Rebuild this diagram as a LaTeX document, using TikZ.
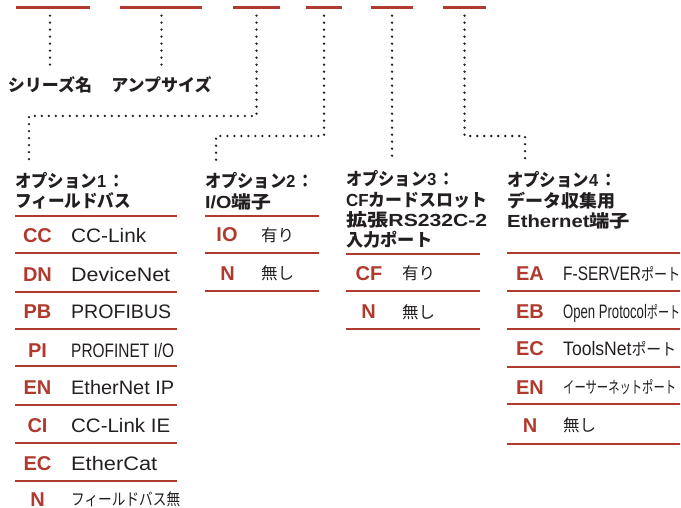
\documentclass[tikz,border=0pt]{standalone}
\usepackage{fontspec}
\setmainfont{Liberation Sans}
\newfontfamily\jp{Noto Sans CJK JP}
\definecolor{rd}{HTML}{B03A2E}
\definecolor{txt}{HTML}{231F20}
\newcommand{\fitw}[2]{\resizebox{#1}{\height}{#2}}
\newcommand{\LA}[1]{{\rmfamily #1}}
\begin{document}
\begin{tikzpicture}[x=1pt,y=-1pt,
  bar/.style={fill=rd, inner sep=0, minimum height=3pt},
  dotln/.style={draw=txt, line width=2.6pt, dash pattern=on 0pt off 7pt, line cap=round},
  rule/.style={draw=rd, line width=1.5pt},
  code/.style={inner sep=0, text height=14pt, text depth=0pt, anchor=center, text=rd, font=\fontsize{20}{20}\selectfont\bfseries},
  lab/.style={inner sep=0, text height=14pt, text depth=0pt, anchor=west, text=txt, font=\fontsize{19.5}{20}\selectfont},
  jl/.style={inner sep=0, text height=12.6pt, text depth=0pt, anchor=west, text=txt, font=\jp\fontsize{16.5}{18}\selectfont},
  hd/.style={inner sep=0, text height=13.3pt, text depth=0pt, anchor=west, text=txt, font=\jp\bfseries\fontsize{17.5}{18}\selectfont},
  top/.style={inner sep=0, text height=13pt, text depth=0pt, anchor=center, text=txt, font=\jp\bfseries\fontsize{17}{18}\selectfont}]
\useasboundingbox (0,0) rectangle (681,508);
% bars
\node[bar, minimum width=74pt] (b1) at (53,8) {};
\node[bar, minimum width=82pt] (b2) at (161,8) {};
\node[bar, minimum width=47pt] (b3) at (256.5,8) {};
\node[bar, minimum width=36pt] (b4) at (324,8) {};
\node[bar, minimum width=42pt] (b5) at (392,8) {};
\node[bar, minimum width=43pt] (b6) at (464.5,8) {};
% top labels
\node[top] (n1) at (50,85) {シリーズ名};
\node[top] (n2) at (161.5,85) {アンプサイズ};
% headers
\node[hd] (h1a) at (15,181) {\fitw{110pt}{オプション\LA{1}\,：}};
\node[hd] (h1b) at (15,201) {\fitw{116pt}{フィールドバス}};
\node[hd] (h2a) at (205,181) {\fitw{109pt}{オプション\LA{2}\,：}};
\node[hd] (h2b) at (205,202) {\fitw{66pt}{\LA{I/O}端子}};
\node[hd] (h3a) at (346,179) {\fitw{109pt}{オプション\LA{3}\,：}};
\node[hd] (h3b) at (346,200) {\fitw{141pt}{\LA{CF}カードスロット}};
\node[hd] (h3c) at (346,220) {\fitw{141pt}{拡張\LA{RS232C-2}}};
\node[hd] (h3d) at (346,240) {\fitw{86pt}{入力ポート}};
\node[hd] (h4a) at (507,180) {\fitw{110pt}{オプション\LA{4}\,：}};
\node[hd] (h4b) at (507,201) {\fitw{108pt}{データ収集用}};
\node[hd] (h4c) at (507,221) {\fitw{123pt}{\LA{Ethernet}端子}};
% connector coordinates
\coordinate (k3) at (256.5,116);
\coordinate (e3) at (29,161);
\coordinate (k4) at (324,136);
\coordinate (e4) at (216,161);
\coordinate (e5) at (392,161);
\coordinate (k6) at (464.5,136);
\coordinate (e6) at (525,161);
% connectors
\draw[dotln] ([yshift=-6pt]b1.south -| n1) -- ([yshift=8pt]n1.north);
\draw[dotln] ([yshift=-6pt]b2.south -| n2) -- ([yshift=8pt]n2.north);
\draw[dotln] ([yshift=-6pt]b3.south) -- (k3) -- (k3 -| e3) -- (e3);
\draw[dotln] ([yshift=-6pt]b4.south) -- (k4) -- (k4 -| e4) -- (e4);
\draw[dotln] ([yshift=-6pt]b5.south) -- (e5);
\draw[dotln] ([yshift=-6pt]b6.south) -- (k6) -- (k6 -| e6) -- (e6);
% column 1
\foreach \y in {216,253,292,329,366,405,443,481} \draw[rule] (15,\y) -- (177,\y);
\node[code] (c1a) at (37.5,236) {CC};
\node[lab] (l1a) at (71,236) {\fitw{75pt}{CC-Link}};
\node[code] (c1b) at (37.5,274) {DN};
\node[lab] (l1b) at (71,274) {\fitw{99pt}{DeviceNet}};
\node[code] (c1c) at (37.5,312) {PB};
\node[lab] (l1c) at (71,312) {\fitw{100pt}{PROFIBUS}};
\node[code] (c1d) at (37.5,350) {PI};
\node[lab] (l1d) at (71,350) {\fitw{103pt}{PROFINET I/O}};
\node[code] (c1e) at (37.5,387) {EN};
\node[lab] (l1e) at (71,387) {\fitw{103pt}{EtherNet IP}};
\node[code] (c1f) at (37.5,425) {CI};
\node[lab] (l1f) at (71,425) {\fitw{99pt}{CC-Link IE}};
\node[code] (c1g) at (37.5,463) {EC};
\node[lab] (l1g) at (71,463) {\fitw{86pt}{EtherCat}};
\node[code] (c1h) at (37.5,499) {N};
\node[jl] (l1h) at (71,499) {\fitw{109pt}{フィールドバス無}};
% column 2
\foreach \y in {216,253,291} \draw[rule] (205,\y) -- (319,\y);
\node[code] (c2a) at (227,235) {IO};
\node[jl] (l2a) at (261,235) {有り};
\node[code] (c2b) at (227.5,273) {N};
\node[jl] (l2b) at (261,273) {無し};
% column 3
\foreach \y in {254,291,329} \draw[rule] (346,\y) -- (480,\y);
\node[code] (c3a) at (369,273) {CF};
\node[jl] (l3a) at (402,273) {有り};
\node[code] (c3b) at (368.5,312) {N};
\node[jl] (l3b) at (402,312) {無し};
% column 4
\foreach \y in {253,291,329,367,404,444} \draw[rule] (507,\y) -- (680,\y);
\node[code] (c4a) at (530,273) {EA};
\node[lab] (l4a) at (563,273) {\fitw{117pt}{F-SERVER{\jp\fontsize{16.5}{18}\selectfont ポート}}};
\node[code] (c4b) at (530,311) {EB};
\node[lab] (l4b) at (563,311) {\fitw{117pt}{Open Protocol{\jp\fontsize{16.5}{18}\selectfont ポート}}};
\node[code] (c4c) at (530,348) {EC};
\node[lab] (l4c) at (563,348) {\fitw{113pt}{ToolsNet{\jp\fontsize{16.5}{18}\selectfont ポート}}};
\node[code] (c4d) at (530,387) {EN};
\node[jl] (l4d) at (563,387) {\fitw{113pt}{イーサーネットポート}};
\node[code] (c4e) at (530,425) {N};
\node[jl] (l4e) at (563,425) {無し};
\end{tikzpicture}
\end{document}
